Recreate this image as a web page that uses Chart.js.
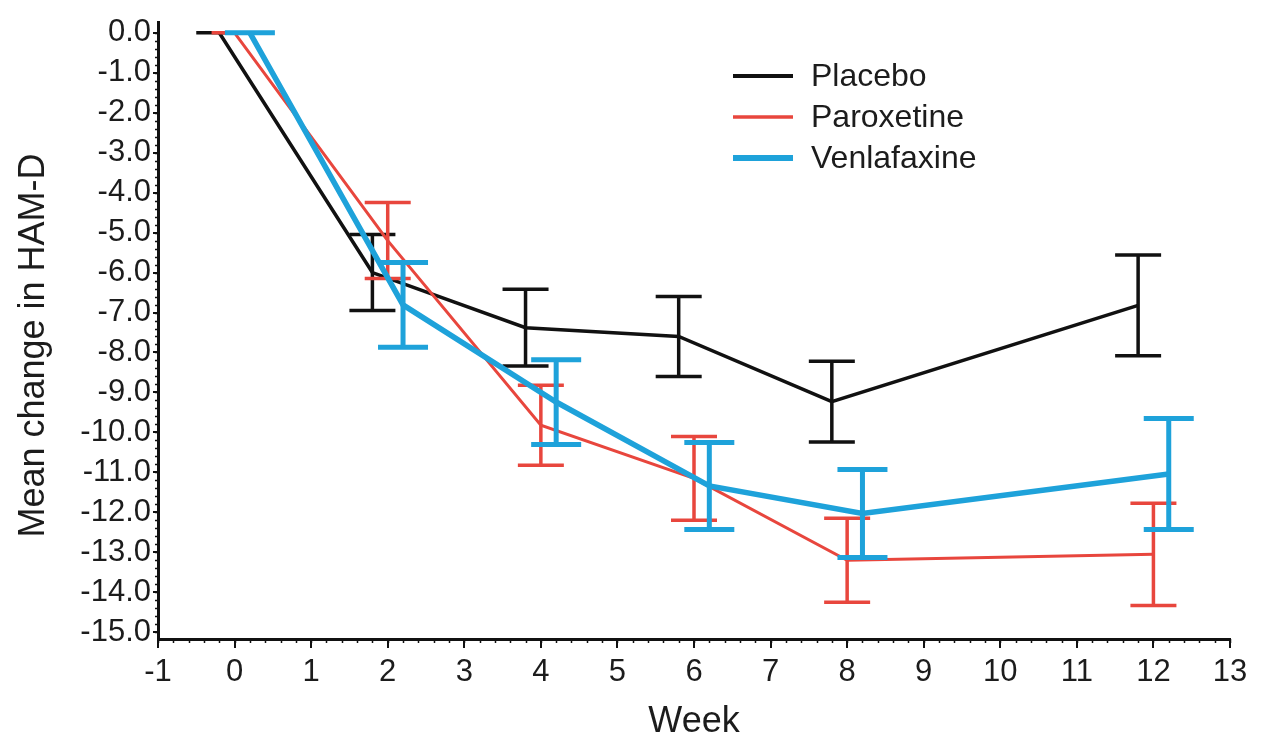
<!DOCTYPE html>
<html>
<head>
<meta charset="utf-8">
<title>Mean change in HAM-D</title>
<script src="https://cdn.jsdelivr.net/npm/chart.js@4"></script>
<style>
  html, body { margin: 0; padding: 0; background: #fff; }
  #wrap { width: 1270px; height: 738px; }
</style>
</head>
<body>
<div id="wrap"><canvas id="hamd"></canvas></div>
<script>
// ---- data ----
const seriesNames = ["Placebo", "Paroxetine", "Venlafaxine"];
const weeks = [0, 2, 4, 6, 8, 12];
// groups are drawn a little off the week so the error bars don't sit on top of each other
const weekShift = [-0.2, 0, 0.2];

const placeboMean = [0, -6.0, -7.38, -7.6, -9.23, -6.82];
const placeboErr = [0, 0.95, 0.96, 1.0, 1.01, 1.26];
const paroxetineMean = [0, -5.2, -9.82, -11.15, -13.2, -13.05];
const paroxetineErr = [0, 0.95, 1.0, 1.05, 1.05, 1.28];
const venlafaxineMean = [0, -6.81, -9.24, -11.34, -12.03, -11.04];
const venlafaxineErr = [0, 1.06, 1.06, 1.09, 1.1, 1.39];

const means = [placeboMean, paroxetineMean, venlafaxineMean];
const errs = [placeboErr, paroxetineErr, venlafaxineErr];

// ---- look ----
const colors = ["#111111", "#e8463d", "#1ea2da"];
const lineWidths = [3.5, 3, 5.5];
const barWidths = [3.5, 3.5, 5];
const capHalf = [23, 23, 25];

Chart.defaults.font.family = "'Liberation Sans', Arial, sans-serif";
Chart.defaults.color = "#1c1c1c";

// error bars, drawn right after each line so the stacking follows the dataset order
const errorBars = {
  id: "errorBars",
  afterDatasetDraw(chart, args) {
    const ds = chart.data.datasets[args.index];
    if (!ds.errors) return;
    const { ctx, scales: { x, y } } = chart;
    ctx.save();
    ctx.strokeStyle = ds.borderColor;
    ctx.lineWidth = ds.barWidth;
    ds.data.forEach((p, i) => {
      const px = x.getPixelForValue(p.x);
      const top = y.getPixelForValue(p.y + ds.errors[i]);
      const bot = y.getPixelForValue(p.y - ds.errors[i]);
      const h = ds.capHalf;
      ctx.beginPath();
      ctx.moveTo(px, top); ctx.lineTo(px, bot);
      ctx.moveTo(px - h, top); ctx.lineTo(px + h, top);
      ctx.moveTo(px - h, bot); ctx.lineTo(px + h, bot);
      ctx.stroke();
    });
    ctx.restore();
  }
};

// small minor ticks along both axes
const minorTicks = {
  id: "minorTicks",
  afterDraw(chart) {
    const { ctx, scales: { x, y }, chartArea } = chart;
    ctx.save();
    ctx.strokeStyle = "#111";
    ctx.lineWidth = 1.5;
    ctx.beginPath();
    for (let v = -1; v <= 13 + 1e-6; v += 0.2) {
      const px = Math.round(x.getPixelForValue(v)) + 0.5;
      ctx.moveTo(px, chartArea.bottom);
      ctx.lineTo(px, chartArea.bottom + 4);
    }
    for (let v = -15; v <= 1e-6; v += 0.2) {
      const py = Math.round(y.getPixelForValue(v)) + 0.5;
      ctx.moveTo(chartArea.left, py);
      ctx.lineTo(chartArea.left - 3, py);
    }
    ctx.stroke();
    ctx.restore();
  }
};

// legend in the upper right of the plot
const insetLegend = {
  id: "insetLegend",
  afterDraw(chart) {
    const { ctx } = chart;
    ctx.save();
    ctx.font = "32px 'Liberation Sans', Arial, sans-serif";
    ctx.textBaseline = "middle";
    chart.data.datasets.forEach((ds, i) => {
      const y = 76 + i * 41;
      ctx.strokeStyle = ds.borderColor;
      ctx.lineWidth = ds.borderWidth + 0.5;
      ctx.beginPath();
      ctx.moveTo(733, y);
      ctx.lineTo(793, y);
      ctx.stroke();
      ctx.fillStyle = "#1c1c1c";
      ctx.fillText(ds.label, 811, y + 1);
    });
    ctx.restore();
  }
};

const datasets = seriesNames.map((name, s) => ({
  label: name,
  data: weeks.map((w, i) => ({ x: w + weekShift[s], y: means[s][i] })),
  errors: errs[s],
  borderColor: colors[s],
  backgroundColor: colors[s],
  borderWidth: lineWidths[s],
  barWidth: barWidths[s],
  capHalf: capHalf[s],
  pointRadius: 0,
  tension: 0,
  order: 3 - s, // blue on top, black underneath
  clip: false
}));

new Chart(document.getElementById("hamd").getContext("2d"), {
  type: "line",
  data: { datasets },
  options: {
    responsive: true,
    maintainAspectRatio: false,
    animation: false,
    layout: { padding: { top: 22, right: 40, left: 0, bottom: 0 } },
    plugins: {
      legend: { display: false },
      tooltip: { enabled: false }
    },
    scales: {
      x: {
        type: "linear",
        min: -1,
        max: 13,
        ticks: { stepSize: 1, font: { size: 31 }, padding: 6, maxRotation: 0, autoSkip: false },
        grid: { drawOnChartArea: false, tickLength: 9, color: "#111", lineWidth: 2 },
        border: { color: "#111", width: 3 },
        title: { display: true, text: "Week", font: { size: 36 }, padding: { top: 0, bottom: -6 } },
        afterFit(s) { s.height = 99; }
      },
      y: {
        type: "linear",
        // axis runs a little past 0 and -15, as in the original figure
        min: -15.17,
        max: 0.27,
        ticks: { stepSize: 1, includeBounds: false, font: { size: 31 }, padding: 2, callback: v => v.toFixed(1) },
        grid: { drawOnChartArea: false, tickLength: 5, color: "#111", lineWidth: 2 },
        border: { color: "#111", width: 3 },
        // trailing spaces nudge the title down, it sits below the axis centre in the original
        title: { display: true, text: "Mean change in HAM-D   ", font: { size: 36 }, padding: { top: 12, bottom: 0 } },
        afterFit(s) { s.width = 158; }
      }
    }
  },
  plugins: [errorBars, minorTicks, insetLegend]
});
</script>
</body>
</html>
